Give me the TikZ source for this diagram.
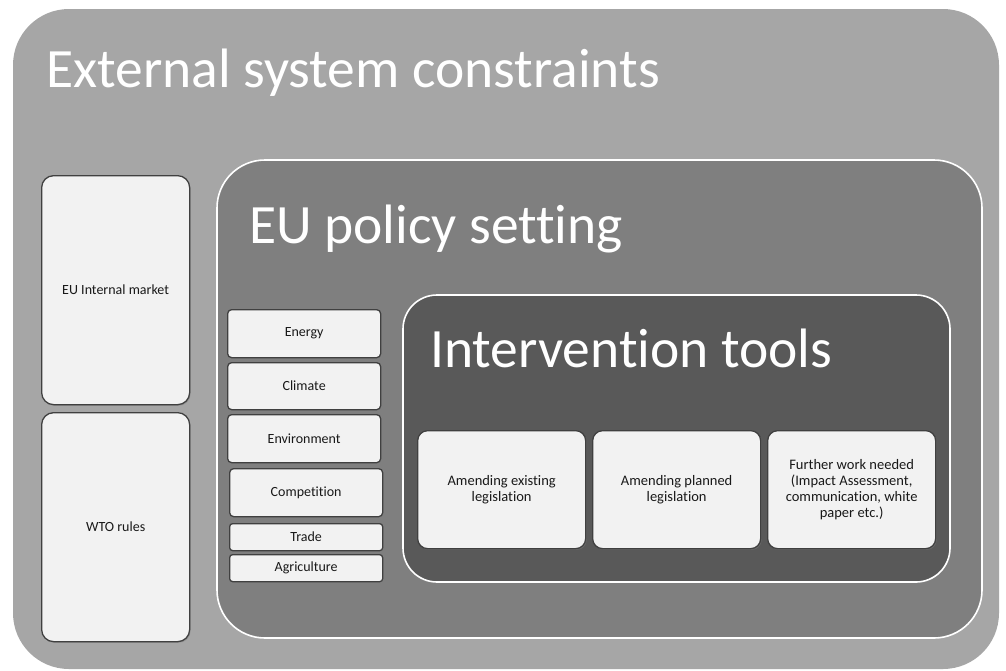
\documentclass[tikz,border=0pt]{standalone}
\usepackage{fontspec}
\setmainfont[Ligatures=NoCommon]{Carlito}
\usetikzlibrary{shadows}
\definecolor{outerc}{HTML}{A6A6A6}
\definecolor{midc}{HTML}{7F7F7F}
\definecolor{innerc}{HTML}{595959}
\definecolor{boxc}{HTML}{F2F2F2}
\definecolor{bordc}{HTML}{404040}
\tikzset{
  panel/.style={draw=white, line width=1.6pt},
  lightbox/.style={draw=bordc, line width=1.3pt, fill=boxc, inner sep=0pt, anchor=north west,
    align=center, font=\fontsize{14}{16}\selectfont, text=black!90,
    drop shadow={shadow xshift=1pt, shadow yshift=-1.2pt, opacity=0.45}},
  title/.style={anchor=base west, text=white, inner sep=0pt, font=\fontsize{55.5}{58}\selectfont},
}
\begin{document}
\begin{tikzpicture}[x=1pt,y=-1pt]
\fill[white] (0,0) rectangle (1006,670);
\useasboundingbox (0,0) rectangle (1006,670);
% outer panel
\fill[outerc, rounded corners=56pt] (13,9) rectangle (999,669);
\node[title] (ext) at (46,87) {External system constraints};
% left boxes
\node[lightbox, rounded corners=12pt, minimum width=148pt, minimum height=229pt] (im) at (41,175) {EU Internal market};
\node[lightbox, rounded corners=12pt, minimum width=148pt, minimum height=229pt] (wto) at (41,412) {WTO rules};
% EU policy setting panel
\filldraw[panel, fill=midc, rounded corners=48pt] (217,160) rectangle (982,638);
\node[title] (eu) at (249,243) {EU policy setting};
% policy boxes
\node[lightbox, rounded corners=4pt, minimum width=153pt, minimum height=48pt] (energy) at (227,309) {Energy};
\node[lightbox, rounded corners=4pt, minimum width=153pt, minimum height=47pt] (climate) at (227,362) {Climate};
\node[lightbox, rounded corners=4pt, minimum width=153pt, minimum height=48pt] (env) at (227,414) {Environment};
\node[lightbox, rounded corners=4pt, minimum width=153pt, minimum height=48pt] (comp) at (229,468) {Competition};
\node[lightbox, rounded corners=3pt, minimum width=153pt, minimum height=27pt] (trade) at (229,523) {Trade};
\node[lightbox, rounded corners=3pt, minimum width=153pt, minimum height=27pt] (agri) at (229,554) {Agriculture};
% Intervention tools panel
\filldraw[panel, fill=innerc, rounded corners=34pt] (403,295) rectangle (950,582);
\node[title] (it) at (430,367) {Intervention tools};
% tool boxes
\node[lightbox, rounded corners=10pt, minimum width=168pt, minimum height=118pt, font=\fontsize{14.5}{16}\selectfont] (t1) at (417,430) {Amending existing\\legislation};
\node[lightbox, rounded corners=10pt, minimum width=168pt, minimum height=118pt, font=\fontsize{14.5}{16}\selectfont] (t2) at (592,430) {Amending planned\\legislation};
\node[lightbox, rounded corners=10pt, minimum width=168pt, minimum height=118pt, font=\fontsize{14.5}{16}\selectfont] (t3) at (767,430) {Further work needed\\(Impact Assessment,\\communication, white\\paper etc.)};
\end{tikzpicture}
\end{document}
